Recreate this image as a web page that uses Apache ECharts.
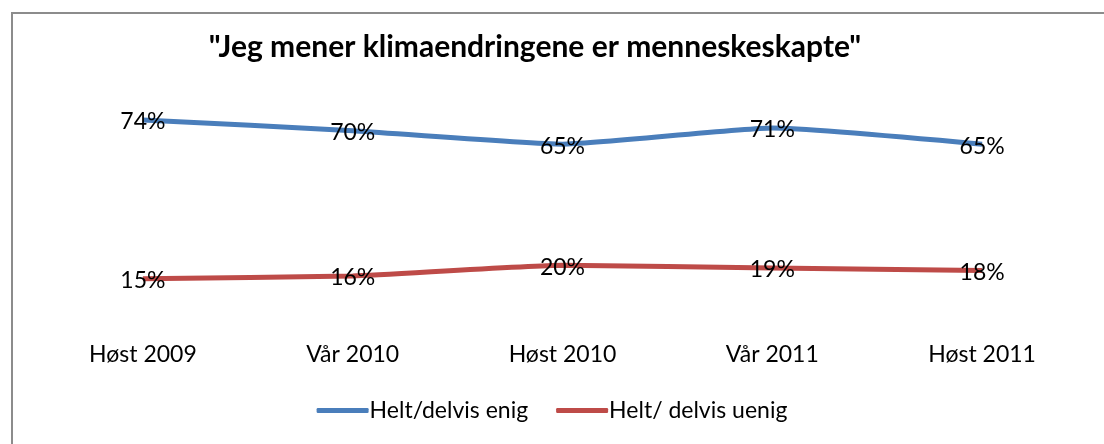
<!DOCTYPE html>
<html>
<head>
<meta charset="utf-8">
<script src="https://cdn.jsdelivr.net/npm/echarts@6/dist/echarts.min.js"></script>
<style>
  html, body { margin: 0; padding: 0; background: #fff; }
  #frame { position: absolute; left: 11px; top: 12px; width: 1104px; height: 444px;
           border-left: 2px solid #8c8c8c; border-top: 2px solid #8c8c8c; }
  #chart { position: absolute; left: 0; top: 0; width: 1104px; height: 444px; }
</style>
</head>
<body>
<div id="frame"></div>
<div id="chart"></div>
<script>
const categories = ['Høst 2009', 'Vår 2010', 'Høst 2010', 'Vår 2011', 'Høst 2011']
const enig = [74, 70, 65, 71, 65]
const uenig = [15, 16, 20, 19, 18]

const FONT = 'Lato'
const chart = echarts.init(document.getElementById('chart'))

function series(name, data, color) {
  return {
    name,
    type: 'line',
    data,
    smooth: 0.15,
    symbol: 'circle',
    symbolSize: 0,
    showSymbol: true,
    lineStyle: { color, width: 5 },
    itemStyle: { color },
    label: {
      show: true,
      position: 'inside',
      offset: [0, 2],
      formatter: '{c}%',
      color: '#000',
      fontFamily: FONT,
      fontSize: 23,
    },
  }
}

chart.setOption({
  animation: false,
  title: {
    text: '"Jeg mener klimaendringene er menneskeskapte"',
    left: 530,
    top: 27,
    textAlign: 'center',
    textStyle: { fontFamily: FONT, fontWeight: 'bold', fontSize: 30, color: '#000' },
  },
  legend: {
    bottom: 17,
    left: 'center',
    itemWidth: 52,
    itemHeight: 5,
    itemGap: 28,
    icon: 'roundRect',
    textStyle: { fontFamily: FONT, fontSize: 23, color: '#000', padding: [0, 0, 0, -4] },
  },
  grid: { left: 38, right: 17, top: 50, bottom: 125 },
  xAxis: {
    type: 'category',
    data: categories,
    boundaryGap: true,
    axisLine: { show: false },
    axisTick: { show: false },
    axisLabel: { margin: 24, fontFamily: FONT, fontSize: 23, color: '#000' },
  },
  yAxis: {
    type: 'value',
    min: 0,
    max: 100,
    show: false,
    splitLine: { show: false },
  },
  series: [
    series('Helt/delvis enig', enig, '#4a7ebb'),
    series('Helt/ delvis uenig', uenig, '#be4b48'),
  ],
})
</script>
</body>
</html>
